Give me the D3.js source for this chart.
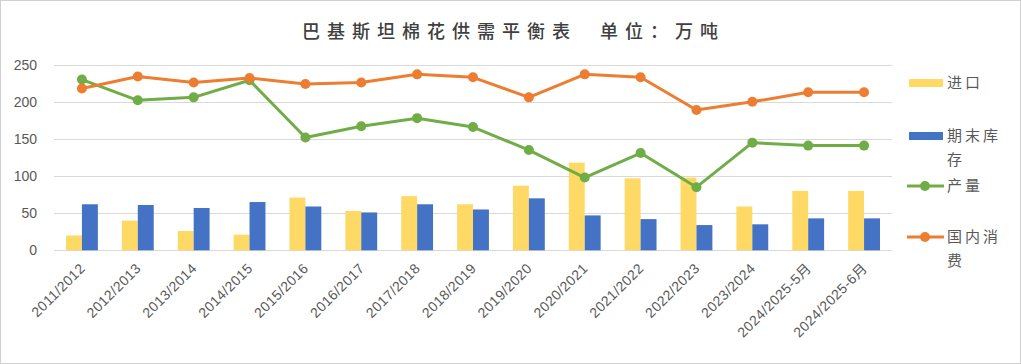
<!DOCTYPE html>
<html><head><meta charset="utf-8">
<script src="https://cdnjs.cloudflare.com/ajax/libs/d3/7.8.5/d3.min.js"></script>
<style>
html,body{margin:0;padding:0;background:#fff;}
svg{display:block;}
</style></head>
<body><svg id="c" width="1021" height="364"></svg>
<script>
const categories = ["2011/2012","2012/2013","2013/2014","2014/2015","2015/2016","2016/2017","2017/2018","2018/2019","2019/2020","2020/2021","2021/2022","2022/2023","2023/2024","2024/2025-5月","2024/2025-6月"];
const imports     = [20, 40, 26, 21, 71, 53, 73, 62, 87, 118, 97, 98, 59, 80, 80];
const endStocks   = [62, 61, 57, 65, 59, 51, 62, 55, 70, 47, 42, 34, 35, 43, 43];
const production  = [230, 202, 206, 229, 152, 167, 178, 166, 135, 98, 131, 85, 145, 141, 141];
const consumption = [218, 234, 226, 232, 224, 226, 237, 233, 206, 237, 233, 189, 200, 213, 213];
const yTicks = [0, 50, 100, 150, 200, 250];
const title = "巴基斯坦棉花供需平衡表";
const unit = "单位：万吨";

const svg = d3.select("#c");
const W = 1021, H = 364;
const margin = {left: 54, right: 129};
const x0 = margin.left, x1 = W - margin.right;
const yTop = 64.7, yBot = 250.3;

svg.append("rect").attr("x",0.5).attr("y",0.5).attr("width",W-1).attr("height",H-1)
  .attr("fill","#fff").attr("stroke","#d0d0d0").attr("stroke-width",1);

const x = d3.scaleBand().domain(categories).range([x0, x1]).paddingInner(0.43).paddingOuter(0.215);
const xc = d => x(d) + x.bandwidth()/2;
const xs = d3.scaleBand().domain(["imp","stk"]).range([0, x.bandwidth()]);
const y = d3.scaleLinear().domain([0, 250]).range([yBot, yTop]);

const font = "'Noto Sans CJK SC','Noto Sans',sans-serif";
const grey = "#595959";

// gridlines
svg.append("g").selectAll("line").data(yTicks).join("line")
  .attr("x1", x0).attr("x2", x1)
  .attr("y1", d => Math.round(y(d))+0.5).attr("y2", d => Math.round(y(d))+0.5)
  .attr("stroke", "#d9d9d9").attr("stroke-width", 1);

// y axis labels
const yAxis = d3.axisLeft(y).tickValues(yTicks).tickSize(0).tickPadding(0);
const gy = svg.append("g").attr("transform", `translate(37,0)`).call(yAxis);
gy.select(".domain").remove();
gy.selectAll("text").attr("fill", grey).style("font-family", "'Liberation Sans',Arial,sans-serif").style("font-size","14px");

// x axis labels
const xAxis = d3.axisBottom(x).tickSize(0).tickPadding(0);
const gx = svg.append("g").attr("transform", `translate(0,${yBot})`).call(xAxis);
gx.select(".domain").remove();
gx.selectAll("text")
  .attr("fill", grey).style("font-family", "'Liberation Sans','Noto Sans CJK SC',sans-serif").style("font-size","14px")
  .style("letter-spacing","0.4px")
  .attr("text-anchor","end").attr("dy", null).attr("y", 0)
  .attr("transform", "translate(4,19) rotate(-45)");

// bars
const bars = svg.append("g");
bars.selectAll("rect.imp").data(categories).join("rect").attr("class","imp")
  .attr("x", d => x(d) + xs("imp")).attr("width", xs.bandwidth())
  .attr("y", (d,i) => y(imports[i])).attr("height", (d,i) => y(0) - y(imports[i]))
  .attr("fill", "#ffd966");
bars.selectAll("rect.stk").data(categories).join("rect").attr("class","stk")
  .attr("x", d => x(d) + xs("stk")).attr("width", xs.bandwidth())
  .attr("y", (d,i) => y(endStocks[i])).attr("height", (d,i) => y(0) - y(endStocks[i]))
  .attr("fill", "#4472c4");

// lines
function drawLine(vals, color) {
  const line = d3.line().x((d,i) => xc(categories[i])).y(d => y(d));
  svg.append("path").datum(vals).attr("d", line).attr("fill","none")
    .attr("stroke", color).attr("stroke-width", 3).attr("stroke-linejoin","round");
  svg.append("g").selectAll("circle").data(vals).join("circle")
    .attr("cx", (d,i) => xc(categories[i])).attr("cy", d => y(d)).attr("r", 5)
    .attr("fill", color);
}
drawLine(production, "#70ad47");
drawLine(consumption, "#ed7d31");

// title
const t = svg.append("text").attr("y", 38).attr("fill", "#404040")
  .style("font-family", font).style("font-size","18px").style("font-weight","500")
  .style("letter-spacing","7px");
t.append("tspan").attr("x", 302).text(title);
t.append("tspan").attr("x", 600).text(unit);

// legend
const lg = svg.append("g").style("font-family", font).style("font-size","15px").attr("fill", grey);
const lx = 909, tx = 947;
lg.append("rect").attr("x", lx).attr("y", 79).attr("width", 34).attr("height", 8).attr("fill", "#ffd966");
lg.append("text").attr("x", tx).attr("y", 88).attr("fill", grey).style("letter-spacing","3px").text("进口");
lg.append("rect").attr("x", lx).attr("y", 132).attr("width", 34).attr("height", 8).attr("fill", "#4472c4");
lg.append("text").attr("x", tx).attr("y", 141).attr("fill", grey).style("letter-spacing","3px").text("期末库");
lg.append("text").attr("x", tx).attr("y", 165).attr("fill", grey).text("存");
lg.append("line").attr("x1", lx-2).attr("x2", lx+35).attr("y1", 186).attr("y2", 186).attr("stroke","#70ad47").attr("stroke-width",3);
lg.append("circle").attr("cx", lx+16).attr("cy", 186).attr("r", 5).attr("fill","#70ad47");
lg.append("text").attr("x", tx).attr("y", 191).attr("fill", grey).style("letter-spacing","3px").text("产量");
lg.append("line").attr("x1", lx-2).attr("x2", lx+35).attr("y1", 237).attr("y2", 237).attr("stroke","#ed7d31").attr("stroke-width",3);
lg.append("circle").attr("cx", lx+16).attr("cy", 237).attr("r", 5).attr("fill","#ed7d31");
lg.append("text").attr("x", tx).attr("y", 242).attr("fill", grey).style("letter-spacing","3px").text("国内消");
lg.append("text").attr("x", tx).attr("y", 266).attr("fill", grey).text("费");
</script></body></html>
